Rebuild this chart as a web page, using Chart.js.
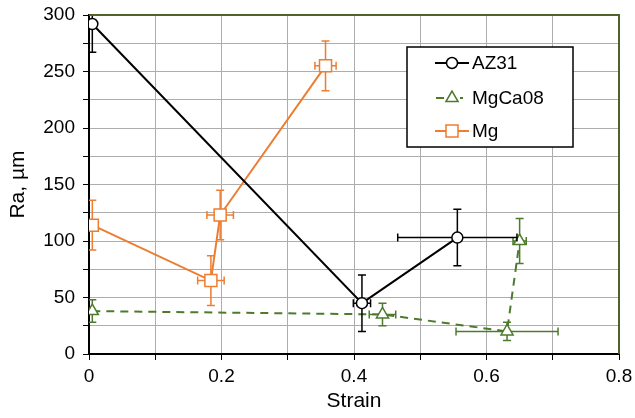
<!DOCTYPE html>
<html>
<head>
<meta charset="utf-8">
<script src="https://cdn.jsdelivr.net/npm/chart.js@4/dist/chart.umd.min.js"></script>
<style>
  html, body { margin: 0; padding: 0; background: #fff; }
  #wrap { width: 635px; height: 418px; position: relative; }
</style>
</head>
<body>
<div id="wrap"><canvas id="chartCanvas"></canvas></div>
<script>
// data (strain, Ra in µm, and error bar half-widths)
var seriesNames = ["AZ31", "MgCa08", "Mg"];

var strainAZ31 = [0.005, 0.412, 0.556];
var raAZ31 = [292, 45, 103];
var strainErrAZ31 = [0, 0.013, 0.09];
var raErrAZ31 = [25, 25, 25];

var strainMgCa08 = [0.005, 0.443, 0.631, 0.65];
var raMgCa08 = [38, 35, 20, 100];
var strainErrMgCa08 = [0, 0.02, 0.077, 0.01];
var raErrMgCa08 = [10, 10, 8, 20];

var strainMg = [0.005, 0.184, 0.198, 0.357];
var raMg = [114, 65, 123, 255];
var strainErrMg = [0, 0.02, 0.02, 0.016];
var raErrMg = [22, 22, 22, 22];

var xTickLabels = ["0", "0.2", "0.4", "0.6", "0.8"];
var yTickLabels = ["0", "50", "100", "150", "200", "250", "300"];

var FONT = "'Liberation Sans', Arial, sans-serif";

function points(xs, ys, xe, ye) {
    var out = [];
    for (var i = 0; i < xs.length; i++) {
        out.push({x: xs[i], y: ys[i], xErr: xe[i], yErr: ye[i]});
    }
    return out;
}

// error bars, drawn under the markers
var errorBars = {
    id: "errorBars",
    beforeDatasetDraw: function (chart, args) {
        var ctx = chart.ctx;
        var xs = chart.scales.x, ys = chart.scales.y;
        var ds = chart.data.datasets[args.index];
        var ca = chart.chartArea;
        ctx.save();
        ctx.beginPath();
        ctx.rect(ca.left, ca.top, ca.right - ca.left, ca.bottom - ca.top);
        ctx.clip();
        ctx.strokeStyle = ds.borderColor;
        ctx.lineWidth = 1.5;
        ctx.setLineDash([]);
        var cap = 4;
        ds.data.forEach(function (p) {
            var px = xs.getPixelForValue(p.x), py = ys.getPixelForValue(p.y);
            ctx.beginPath();
            if (p.yErr) {
                var t = ys.getPixelForValue(p.y + p.yErr), b = ys.getPixelForValue(p.y - p.yErr);
                ctx.moveTo(px, t); ctx.lineTo(px, b);
                ctx.moveTo(px - cap, t); ctx.lineTo(px + cap, t);
                ctx.moveTo(px - cap, b); ctx.lineTo(px + cap, b);
            }
            if (p.xErr) {
                var l = xs.getPixelForValue(p.x - p.xErr), r = xs.getPixelForValue(p.x + p.xErr);
                ctx.moveTo(l, py); ctx.lineTo(r, py);
                ctx.moveTo(l, py - cap); ctx.lineTo(l, py + cap);
                ctx.moveTo(r, py - cap); ctx.lineTo(r, py + cap);
            }
            ctx.stroke();
        });
        ctx.restore();
    }
};

// green top/right frame and the boxed legend
var frameAndLegend = {
    id: "frameAndLegend",
    afterDraw: function (chart) {
        var ctx = chart.ctx;
        var ca = chart.chartArea;
        ctx.save();
        ctx.strokeStyle = "#4f6228";
        ctx.lineWidth = 2;
        ctx.beginPath();
        ctx.moveTo(ca.left, ca.top);
        ctx.lineTo(ca.right, ca.top);
        ctx.lineTo(ca.right, ca.bottom);
        ctx.stroke();

        // legend box
        var bx = 407, by = 47, bw = 166, bh = 100;
        ctx.fillStyle = "#fff";
        ctx.fillRect(bx, by, bw, bh);
        ctx.strokeStyle = "#000";
        ctx.lineWidth = 1.5;
        ctx.strokeRect(bx, by, bw, bh);

        var rows = [63, 98, 131];
        chart.data.datasets.forEach(function (ds, i) {
            var y = rows[i];
            ctx.strokeStyle = ds.borderColor;
            ctx.lineWidth = 2;
            ctx.beginPath();
            if (ds.borderDash) {
                ctx.moveTo(436, y); ctx.lineTo(444, y);
                ctx.moveTo(460, y); ctx.lineTo(463, y);
            } else {
                ctx.moveTo(435, y); ctx.lineTo(469, y);
            }
            ctx.stroke();
            ctx.fillStyle = "#fff";
            ctx.lineWidth = 1.5;
            var opts = {pointStyle: ds.pointStyle, rotation: 0, borderWidth: 1.5, radius: ds.pointRadius};
            Chart.helpers.drawPoint(ctx, opts, 452, y);
            ctx.fillStyle = "#000";
            ctx.font = "19px " + FONT;
            ctx.textBaseline = "middle";
            ctx.fillText(seriesNames[i], 472, y + 1);
        });
        ctx.restore();
    }
};

var mychart = new Chart(document.getElementById("chartCanvas"), {
    type: "scatter",
    data: {
        datasets: [{
            label: seriesNames[0],
            data: points(strainAZ31, raAZ31, strainErrAZ31, raErrAZ31),
            showLine: true,
            borderColor: "#000000",
            borderWidth: 2,
            pointStyle: "circle",
            pointRadius: 5.5,
            pointBackgroundColor: "#ffffff",
            pointBorderWidth: 1.5
        }, {
            label: seriesNames[1],
            data: points(strainMgCa08, raMgCa08, strainErrMgCa08, raErrMgCa08),
            showLine: true,
            borderColor: "#4e7a2c",
            borderWidth: 2,
            borderDash: [8, 6],
            pointStyle: "triangle",
            pointRadius: 7,
            pointBackgroundColor: "#ffffff",
            pointBorderWidth: 1.5
        }, {
            label: seriesNames[2],
            data: points(strainMg, raMg, strainErrMg, raErrMg),
            showLine: true,
            borderColor: "#ed7d31",
            borderWidth: 2,
            pointStyle: "rect",
            pointRadius: 8.5,
            pointBackgroundColor: "#ffffff",
            pointBorderWidth: 1.5
        }]
    },
    options: {
        responsive: true,
        maintainAspectRatio: false,
        animation: false,
        layout: {padding: {top: 15, right: 16, left: 0, bottom: 0}},
        plugins: {
            legend: {display: false},
            tooltip: {enabled: false}
        },
        scales: {
            x: {
                type: "linear",
                min: 0,
                max: 0.8,
                afterFit: function (s) {
                    s.height = 64;
                    s.paddingLeft = 0;
                    s.paddingRight = 0;
                },
                ticks: {
                    stepSize: 0.1,
                    color: "#000",
                    font: {family: FONT, size: 19},
                    padding: 5,
                    maxRotation: 0,
                    autoSkip: false,
                    callback: function (v) {
                        var k = Math.round(v * 10);
                        return k % 2 === 0 ? xTickLabels[k / 2] : "";
                    }
                },
                grid: {color: "#adadad", lineWidth: 1, tickLength: 6, tickColor: "#000"},
                border: {color: "#000", width: 2},
                title: {display: true, text: "Strain", color: "#000", font: {family: FONT, size: 21}, padding: {top: 0}}
            },
            y: {
                type: "linear",
                min: 0,
                max: 300,
                afterFit: function (s) {
                    s.width = 89;
                    s.paddingTop = 0;
                    s.paddingBottom = 0;
                },
                ticks: {
                    stepSize: 25,
                    color: "#000",
                    font: {family: FONT, size: 19},
                    padding: 8,
                    autoSkip: false,
                    callback: function (v) {
                        return v % 50 === 0 ? yTickLabels[v / 50] : "";
                    }
                },
                grid: {color: "#adadad", lineWidth: 1, tickLength: 6, tickColor: "#000"},
                border: {color: "#000", width: 2},
                title: {display: true, text: "Ra, µm", color: "#000", font: {family: FONT, size: 21}, padding: {top: 6, bottom: 0}}
            }
        }
    },
    plugins: [errorBars, frameAndLegend]
});
</script>
</body>
</html>
